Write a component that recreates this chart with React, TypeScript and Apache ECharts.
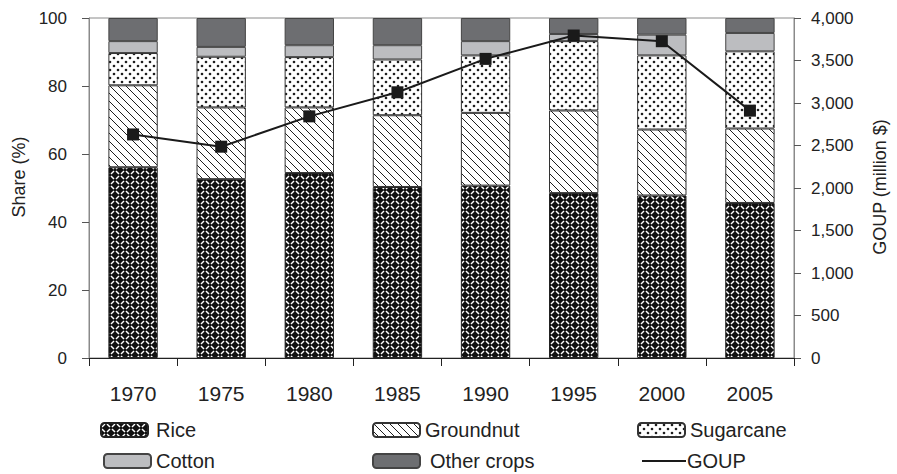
import React, { useEffect, useRef } from "react";
import * as echarts from "echarts";

const years = ["1970", "1975", "1980", "1985", "1990", "1995", "2000", "2005"];
const rice = [56.1, 52.6, 54.4, 50.3, 50.7, 48.5, 47.8, 45.6];
const groundnut = [24.1, 21.1, 19.3, 21.1, 21.4, 24.3, 19.4, 21.9];
const sugarcane = [9.5, 14.9, 14.8, 16.4, 16.9, 20.4, 21.8, 22.7];
const cotton = [3.5, 2.9, 3.5, 4.2, 4.2, 2.1, 6.1, 5.4];
const otherCrops = [6.8, 8.5, 8.0, 8.0, 6.8, 4.7, 4.9, 4.4];
const goup = [2630, 2486, 2843, 3126, 3519, 3794, 3727, 2910];

function makeTile(size: number, draw: (ctx: CanvasRenderingContext2D) => void) {
  const c = document.createElement("canvas");
  c.width = size;
  c.height = size;
  const ctx = c.getContext("2d")!;
  draw(ctx);
  return c;
}

export default function App() {
  const ref = useRef<HTMLDivElement>(null);
  useEffect(() => {
    if (!ref.current) return;
    const chart = echarts.init(ref.current, undefined, { renderer: "svg" });

    const riceTile = makeTile(10, (ctx) => {
      ctx.fillStyle = "#111111";
      ctx.fillRect(0, 0, 10, 10);
      ctx.strokeStyle = "#ffffff";
      ctx.lineWidth = 1.5;
      ctx.lineCap = "butt";
      const seg = (x1: number, y1: number, x2: number, y2: number) => {
        ctx.beginPath();
        ctx.moveTo(x1, y1);
        ctx.lineTo(x2, y2);
        ctx.stroke();
      };
      seg(1, 4, 4, 1);
      seg(6, 1, 9, 4);
      seg(1, 6, 4, 9);
      seg(6, 9, 9, 6);
    });
    const groundTile = makeTile(8, (ctx) => {
      ctx.fillStyle = "#ffffff";
      ctx.fillRect(0, 0, 8, 8);
      ctx.strokeStyle = "#1e1e1e";
      ctx.lineWidth = 1;
      ctx.beginPath();
      ctx.moveTo(-1, -1);
      ctx.lineTo(9, 9);
      ctx.moveTo(-1, 7);
      ctx.lineTo(1, 9);
      ctx.moveTo(7, -1);
      ctx.lineTo(9, 1);
      ctx.stroke();
    });
    const sugarTile = makeTile(8, (ctx) => {
      ctx.fillStyle = "#ffffff";
      ctx.fillRect(0, 0, 8, 8);
      ctx.fillStyle = "#1e1e1e";
      ctx.beginPath();
      ctx.arc(2, 2, 1.3, 0, Math.PI * 2);
      ctx.fill();
      ctx.beginPath();
      ctx.arc(6, 6, 1.3, 0, Math.PI * 2);
      ctx.fill();
    });

    const pat = (c: HTMLCanvasElement) => ({
      image: c,
      repeat: "repeat",
      imageWidth: c.width,
      imageHeight: c.height,
    });

    const barBase = {
      type: "bar",
      stack: "share",
      barWidth: "56%",
      yAxisIndex: 0,
    };

    const textColor = "#222222";
    const font = "'Liberation Sans', Arial, sans-serif";

    const legendCommon = {
      itemWidth: 47,
      itemHeight: 14,
      itemGap: 6,
      padding: 0,
      textStyle: { fontSize: 20, color: textColor, fontFamily: font },
      selectedMode: false,
    };
    const row1 = 420;
    const row2 = 451;

    chart.setOption({
      animation: false,
      textStyle: { fontFamily: font },
      grid: {
        left: 89,
        right: 103,
        top: 18,
        bottom: 116,
        show: true,
        borderColor: "#8a8a8a",
        borderWidth: 1,
      },
      graphic: [
        {
          type: "text",
          x: 19,
          y: 177,
          rotation: Math.PI / 2,
          style: {
            text: "Share (%)",
            fontSize: 18,
            fontFamily: font,
            fill: textColor,
            align: "center",
            verticalAlign: "middle",
          },
        },
        {
          type: "text",
          x: 880,
          y: 187,
          rotation: Math.PI / 2,
          style: {
            text: "GOUP (million $)",
            fontSize: 18,
            fontFamily: font,
            fill: textColor,
            align: "center",
            verticalAlign: "middle",
          },
        },
      ],
      legend: [
        { ...legendCommon, data: ["Rice"], left: 100, top: row1, textStyle: { ...legendCommon.textStyle, padding: [0, 0, 0, 3] } },
        { ...legendCommon, data: ["Groundnut"], left: 372, top: row1 },
        { ...legendCommon, data: ["Sugarcane"], left: 637, top: row1 },
        { ...legendCommon, data: ["Cotton"], left: 103, top: row2 },
        { ...legendCommon, data: ["Other crops"], left: 372, top: row2, textStyle: { ...legendCommon.textStyle, padding: [0, 0, 0, 5] } },
        {
          ...legendCommon,
          data: [{ name: "GOUP", icon: "rect" }],
          left: 642,
          top: row2,
          itemWidth: 44,
          itemHeight: 2,
          textStyle: { ...legendCommon.textStyle, padding: [0, 0, 0, -4] },
        },
      ],
      xAxis: {
        type: "category",
        data: years,
        axisLine: { lineStyle: { color: "#222", width: 1 } },
        axisTick: { show: true, length: 8, lineStyle: { color: "#222" } },
        axisLabel: { fontSize: 21, color: textColor, margin: 25 },
      },
      yAxis: [
        {
          type: "value",
          min: 0,
          max: 100,
          interval: 20,
          axisLine: { show: true, lineStyle: { color: "#8a8a8a" } },
          axisTick: { show: true, length: 7, lineStyle: { color: "#555" } },
          axisLabel: { fontSize: 17, color: textColor, margin: 22 },
          splitLine: { show: false },
        },
        {
          type: "value",
          min: 0,
          max: 4000,
          interval: 500,
          position: "right",
          axisLine: { show: true, lineStyle: { color: "#8a8a8a" } },
          axisTick: { show: true, length: 7, lineStyle: { color: "#555" } },
          axisLabel: {
            fontSize: 17,
            color: textColor,
            margin: 17,
            formatter: (v: number) => v.toLocaleString("en-US"),
          },
          splitLine: { show: false },
        },
      ],
      series: [
        {
          ...barBase,
          name: "Rice",
          data: rice,
          itemStyle: { color: pat(riceTile), borderColor: "#222", borderWidth: 1 },
        },
        {
          ...barBase,
          name: "Groundnut",
          data: groundnut,
          itemStyle: { color: pat(groundTile), borderColor: "#333", borderWidth: 1 },
        },
        {
          ...barBase,
          name: "Sugarcane",
          data: sugarcane,
          itemStyle: { color: pat(sugarTile), borderColor: "#333", borderWidth: 1 },
        },
        {
          ...barBase,
          name: "Cotton",
          data: cotton,
          itemStyle: { color: "#bcbdc0", borderColor: "#444", borderWidth: 1 },
        },
        {
          ...barBase,
          name: "Other crops",
          data: otherCrops,
          itemStyle: { color: "#6d6e71", borderColor: "#444", borderWidth: 1 },
        },
        {
          type: "line",
          name: "GOUP",
          yAxisIndex: 1,
          data: goup,
          symbol: "rect",
          symbolSize: 12,
          lineStyle: { color: "#1a1a1a", width: 2 },
          itemStyle: { color: "#1a1a1a" },
          z: 5,
        },
      ],
    });
    return () => chart.dispose();
  }, []);
  return <div ref={ref} style={{ width: 897, height: 474, position: "absolute", left: 0, top: 0 }} />;
}
